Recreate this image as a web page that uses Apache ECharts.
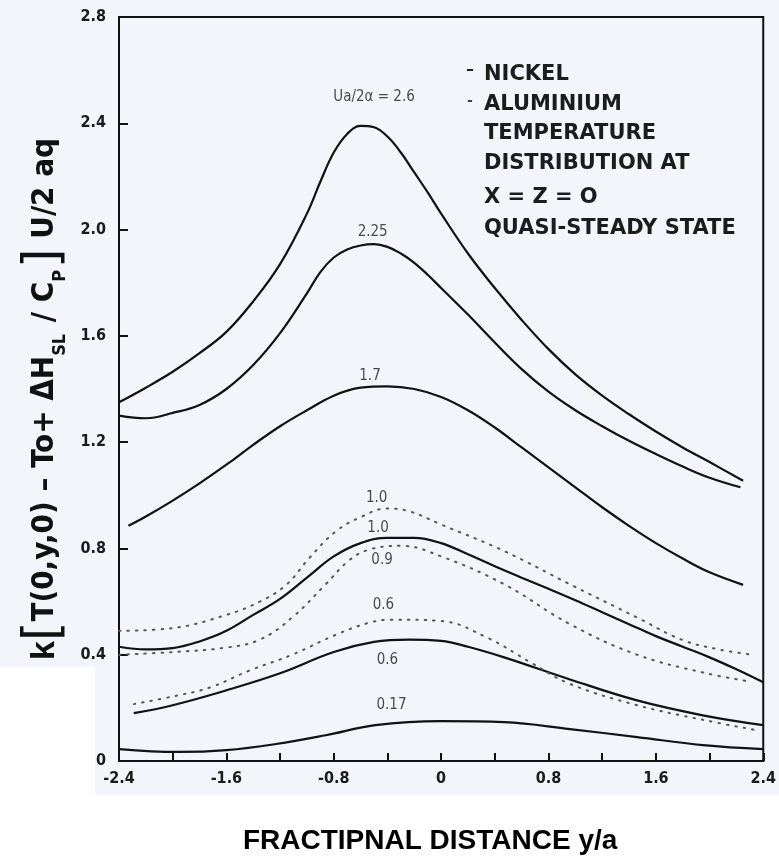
<!DOCTYPE html>
<html><head><meta charset="utf-8">
<script src="https://cdn.jsdelivr.net/npm/echarts@6/dist/echarts.min.js"></script>
<style>html,body{margin:0;padding:0;background:#fff}#c{width:779px;height:860px}</style>
</head><body><div id="c"></div>
<script>
// ---- data (x = y/a, y = dimensionless temperature) ----
const xTickLabels = ['-2.4','-1.6','-0.8','0','0.8','1.6','2.4'];
const yTickLabels = ['0','0.4','0.8','1.2','1.6','2.0','2.4','2.8'];

// NICKEL (solid)
const nickel26 = [[-2.4,1.35],[-2.2,1.405],[-2.0,1.465],[-1.8,1.535],[-1.6,1.615],[-1.4,1.73],[-1.2,1.87],[-1.0,2.06],[-0.9,2.18],[-0.8,2.29],[-0.7,2.36],[-0.6,2.39],[-0.5,2.385],[-0.4,2.35],[-0.3,2.29],[-0.2,2.215],[-0.1,2.14],[0.0,2.06],[0.2,1.91],[0.4,1.78],[0.6,1.66],[0.8,1.55],[1.0,1.455],[1.2,1.375],[1.4,1.305],[1.6,1.24],[1.8,1.18],[2.0,1.125],[2.25,1.055]];
const nickel225 = [[-2.4,1.30],[-2.2,1.29],[-2.0,1.31],[-1.8,1.34],[-1.6,1.40],[-1.4,1.49],[-1.2,1.61],[-1.0,1.76],[-0.9,1.84],[-0.8,1.895],[-0.7,1.925],[-0.6,1.94],[-0.5,1.945],[-0.4,1.935],[-0.3,1.91],[-0.2,1.875],[-0.1,1.83],[0.0,1.78],[0.2,1.68],[0.4,1.575],[0.6,1.475],[0.8,1.39],[1.0,1.32],[1.2,1.26],[1.4,1.205],[1.6,1.155],[1.8,1.108],[2.0,1.066],[2.23,1.03]];
const nickel17 = [[-2.33,0.885],[-2.2,0.92],[-2.0,0.98],[-1.8,1.045],[-1.6,1.115],[-1.4,1.19],[-1.2,1.26],[-1.0,1.32],[-0.8,1.375],[-0.6,1.405],[-0.4,1.41],[-0.2,1.40],[0.0,1.37],[0.2,1.32],[0.4,1.255],[0.6,1.18],[0.8,1.105],[1.0,1.03],[1.2,0.955],[1.4,0.885],[1.6,0.82],[1.8,0.762],[2.0,0.71],[2.25,0.663]];
const nickel10 = [[-2.4,0.43],[-2.2,0.42],[-2.0,0.425],[-1.8,0.45],[-1.6,0.49],[-1.4,0.55],[-1.2,0.61],[-1.0,0.69],[-0.8,0.77],[-0.6,0.82],[-0.4,0.84],[-0.2,0.84],[0.0,0.82],[0.2,0.778],[0.4,0.733],[0.6,0.69],[0.8,0.648],[1.0,0.605],[1.2,0.56],[1.4,0.515],[1.6,0.47],[1.8,0.43],[2.0,0.39],[2.2,0.345],[2.4,0.296]];
const nickel06 = [[-2.29,0.18],[-2.0,0.21],[-1.6,0.266],[-1.2,0.33],[-0.8,0.41],[-0.5,0.448],[-0.24,0.457],[0.0,0.452],[0.2,0.43],[0.47,0.39],[0.96,0.307],[1.46,0.228],[1.95,0.172],[2.4,0.135]];
const nickel017 = [[-2.4,0.045],[-1.96,0.034],[-1.6,0.041],[-1.23,0.064],[-0.86,0.097],[-0.49,0.135],[0.0,0.15],[0.47,0.146],[0.96,0.12],[1.46,0.09],[1.95,0.06],[2.4,0.045]];

// ALUMINIUM (dotted)
const alu10 = [[-2.4,0.49],[-2.0,0.50],[-1.6,0.55],[-1.35,0.60],[-1.15,0.665],[-0.98,0.765],[-0.78,0.866],[-0.59,0.92],[-0.41,0.95],[-0.24,0.94],[0.0,0.89],[0.47,0.79],[0.96,0.665],[1.46,0.54],[1.80,0.455],[2.07,0.42],[2.32,0.40]];
const alu09 = [[-2.4,0.40],[-2.0,0.41],[-1.6,0.427],[-1.35,0.457],[-1.11,0.54],[-0.86,0.665],[-0.69,0.753],[-0.54,0.795],[-0.30,0.81],[0.0,0.77],[0.47,0.665],[0.96,0.515],[1.46,0.40],[1.95,0.333],[2.29,0.30]];
const alu06 = [[-2.29,0.214],[-1.96,0.247],[-1.72,0.277],[-1.43,0.34],[-1.11,0.40],[-0.78,0.476],[-0.54,0.52],[-0.37,0.532],[0.0,0.527],[0.34,0.465],[0.67,0.37],[0.96,0.29],[1.46,0.21],[1.95,0.155],[2.36,0.115]];

// curve annotations (data coordinates)
const curveLabels = [[-0.5,2.5,'Ua/2α = 2.6'],[-0.51,1.99,'2.25'],[-0.53,1.447,'1.7'],[-0.48,0.99,'1.0'],[-0.47,0.877,'1.0'],[-0.44,0.757,'0.9'],[-0.43,0.585,'0.6'],[-0.40,0.379,'0.6'],[-0.37,0.21,'0.17']];

const legendLines = ['NICKEL','ALUMINIUM','TEMPERATURE','DISTRIBUTION AT','X = Z = O','QUASI-STEADY STATE'];

// ---- chart ----
const COND = "'DejaVu Sans Condensed','Liberation Sans Narrow','DejaVu Sans',sans-serif";
const chart = echarts.init(document.getElementById('c'), null, {renderer:'canvas'});
function solid(name, data){
  return {name:'NICKEL '+name, type:'line', data, smooth:0.4, showSymbol:false, silent:true,
    lineStyle:{color:'#111', width:2.2}};
}
function dotted(name, data){
  return {name:'ALUMINIUM '+name, type:'line', data, smooth:0.4, showSymbol:false, silent:true,
    lineStyle:{color:'#555', width:2, type:[1.5,7], cap:'round'}};
}
const legendY = [75,105,134,164,198,229];
const graphics = [
  {type:'rect', z:-10, shape:{x:0,y:795,width:779,height:65}, style:{fill:'#ffffff'}},
  {type:'rect', z:-10, shape:{x:0,y:667,width:95,height:193}, style:{fill:'#ffffff'}},
  {type:'text', x:466, y:70, style:{text:'–', font:'bold 16px "DejaVu Sans"', fill:'#222', verticalAlign:'middle'}},
  {type:'text', x:467, y:101, style:{text:'-', font:'bold 14px "DejaVu Sans"', fill:'#444', verticalAlign:'middle'}}
];
legendLines.forEach((t,i)=>graphics.push({type:'text', x:484, y:legendY[i],
  style:{text:t, font:'bold 21px "DejaVu Sans"', fill:'#1c1c1c', verticalAlign:'middle'}}));

chart.setOption({
  backgroundColor:'#f3f5fb',
  animation:false,
  grid:{left:119, right:11, top:17, bottom:96, show:true, borderColor:'#111', borderWidth:2, backgroundColor:'transparent'},
  xAxis:{type:'value', min:-2.4, max:2.4, interval:0.4,
    name:'FRACTIPNAL DISTANCE y/a', nameLocation:'middle', nameGap:66,
    nameTextStyle:{fontFamily:"'Liberation Sans',Arial,sans-serif", fontWeight:'bold', fontSize:28, color:'#000', padding:[0,0,0,-22]},
    axisLine:{onZero:false, lineStyle:{color:'#111', width:2}},
    axisTick:{inside:true, length:8, lineStyle:{color:'#111', width:2}},
    splitLine:{show:false},
    axisLabel:{margin:10, fontFamily:COND, fontSize:16, fontWeight:'bold', color:'#1a1a1a',
      formatter:v=>{const k=Math.round((v+2.4)/0.8*1000)/1000; return Number.isInteger(k)? xTickLabels[k] : '';}}
  },
  yAxis:{type:'value', min:0, max:2.8, interval:0.4,
    name:'{k|k}{br|[}{m|T(0,y,0) – To+ ΔH}{s|SL}{m| / C}{s|P}{br|]}{m| U/2 aq}',
    nameLocation:'middle', nameRotate:90, nameGap:46,
    nameTextStyle:{color:'#111', padding:[0,0,0,-20], rich:{
      k:{fontFamily:"'Liberation Sans',sans-serif", fontSize:34, fontWeight:'bold', color:'#111'},
      br:{fontFamily:"'DejaVu Sans',sans-serif", fontSize:50, fontWeight:'normal', color:'#111'},
      m:{fontFamily:COND, fontSize:31, fontWeight:'bold', color:'#111'},
      s:{fontFamily:COND, fontSize:18, fontWeight:'bold', color:'#111', verticalAlign:'bottom', padding:[0,2,0,0]}
    }},
    axisLine:{onZero:false, lineStyle:{color:'#111', width:2}},
    axisTick:{inside:true, length:9, lineStyle:{color:'#111', width:2}},
    splitLine:{show:false},
    axisLabel:{margin:13, fontFamily:COND, fontSize:16, fontWeight:'bold', color:'#1a1a1a',
      formatter:v=>{const k=Math.round(v/0.4); return yTickLabels[k];}}
  },
  graphic:graphics,
  series:[
    solid('Ua/2α = 2.6', nickel26),
    solid('Ua/2α = 2.25', nickel225),
    solid('Ua/2α = 1.7', nickel17),
    solid('Ua/2α = 1.0', nickel10),
    solid('Ua/2α = 0.6', nickel06),
    solid('Ua/2α = 0.17', nickel017),
    dotted('Ua/2α = 1.0', alu10),
    dotted('Ua/2α = 0.9', alu09),
    dotted('Ua/2α = 0.6', alu06),
    {name:'curve labels', type:'scatter', symbolSize:0, silent:true,
      data:curveLabels.map(d=>({value:[d[0],d[1]], label:{formatter:d[2]}})),
      label:{show:true, position:'inside', fontFamily:COND, fontSize:15, color:'#1a1a1a'}}
  ]
});
</script></body></html>
